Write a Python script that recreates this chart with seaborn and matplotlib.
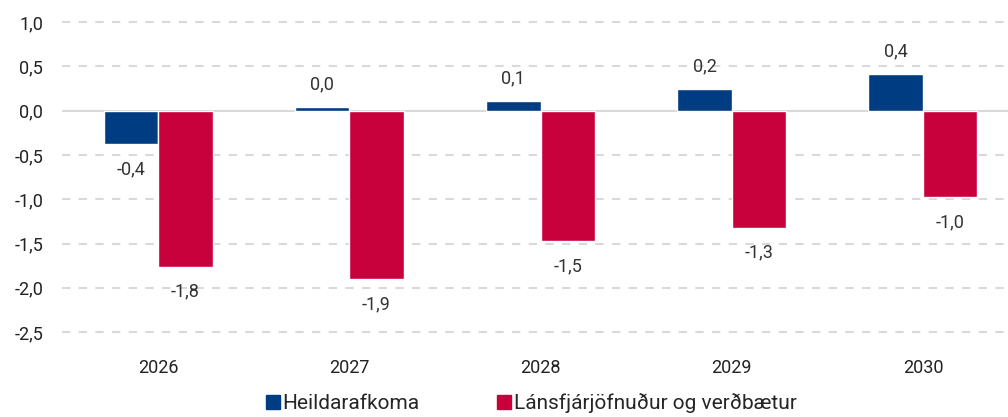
import pandas as pd
import matplotlib.pyplot as plt
import seaborn as sns
from matplotlib.lines import Line2D

# Gögn lesin af myndinni
years = ["2026", "2027", "2028", "2029", "2030"]
heildarafkoma = [-0.38, 0.04, 0.11, 0.24, 0.41]
lansfjarjofnudur = [-1.76, -1.90, -1.47, -1.32, -0.98]
series_names = ["Heildarafkoma", "Lánsfjárjöfnuður og verðbætur"]
colors = ["#003C82", "#C8003C"]
y_ticks = [1.0, 0.5, 0.0, -0.5, -1.0, -1.5, -2.0, -2.5]

df = pd.DataFrame({
    "ar": years * 2,
    "gildi": heildarafkoma + lansfjarjofnudur,
    "rod": [series_names[0]] * len(years) + [series_names[1]] * len(years),
})

sns.set_theme(style="white")
plt.rcParams["font.family"] = ["Roboto", "DejaVu Sans"]

fig, ax = plt.subplots(figsize=(10.08, 4.17), dpi=100)
fig.subplots_adjust(left=0.062, right=1.0, top=0.964, bottom=0.178)

sns.barplot(data=df, x="ar", y="gildi", hue="rod", palette=colors,
            width=0.57, gap=0, saturation=1, legend=False, ax=ax, zorder=3)

# Gildismerki
for container in ax.containers:
    for bar in container:
        val = bar.get_height()
        xc = bar.get_x() + bar.get_width() / 2
        txt = f"{val:.1f}".replace(".", ",")
        dy = 16.5 if val >= 0 else -18
        ax.annotate(txt, (xc, val), xytext=(0, dy), textcoords="offset points",
                    ha="center", va="center", fontsize=13, color="#333333")

ax.set_ylim(-2.62, 1.08)
ax.set_xlim(-0.5, 4.445)
ax.set_yticks(y_ticks)
ax.set_yticklabels([f"{t:.1f}".replace(".", ",") for t in y_ticks])
for t in y_ticks:
    if t == 0:
        ax.axhline(t, color="#d9d9d9", lw=1.5, zorder=1)
    else:
        ax.axhline(t, color="#d9d9d9", lw=1.5, ls=(0, (4, 4)), zorder=1)

ax.set_xlabel("")
ax.set_ylabel("")
ax.tick_params(axis="y", labelsize=13, colors="#222222", length=0, pad=14)
ax.tick_params(axis="x", labelsize=13, colors="#222222", length=0, pad=12)
for s in ax.spines.values():
    s.set_visible(False)

handles = [Line2D([], [], marker="s", ls="", color=c, markersize=10) for c in colors]
fig.legend(handles, series_names, loc="lower center", ncol=2, frameon=False,
           bbox_to_anchor=(0.527, -0.035), fontsize=15, handletextpad=0.1,
           handlelength=0.7, columnspacing=3.7)

fig.savefig("out.png", dpi=100)
